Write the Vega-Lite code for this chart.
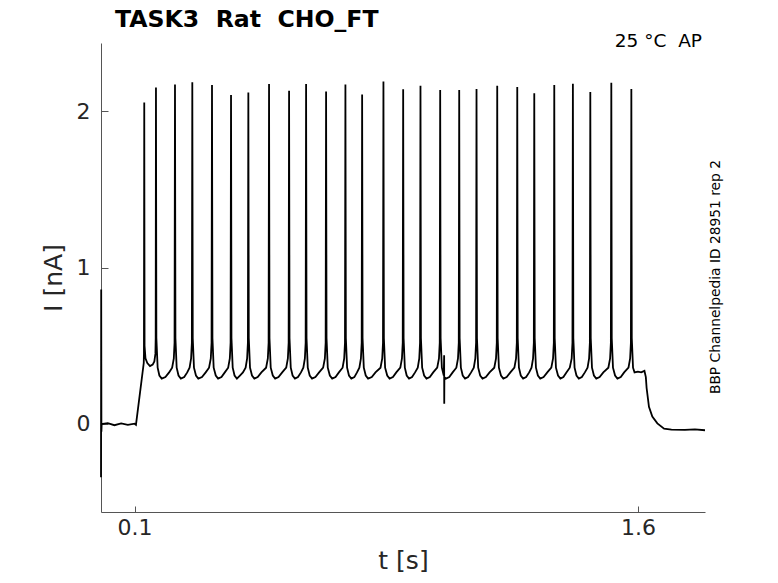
{
  "$schema": "https://vega.github.io/schema/vega-lite/v6.json",
  "autosize": {"type": "none"},
  "padding": {"left": 101, "top": 43, "right": 73, "bottom": 71},
  "width": 604,
  "height": 469,
  "title": {
    "text": "TASK3\u00a0 Rat\u00a0 CHO_FT",
    "anchor": "start",
    "frame": "group",
    "dx": 14,
    "offset": 0,
    "font": "DejaVu Sans",
    "fontSize": 23.6,
    "fontWeight": "bold",
    "color": "black"
  },
  "layer": [
    {
      "data": {
        "values": [
          {"t": 0, "I": -0.34}, {"t": 0.0006, "I": 0.86}, {"t": 0.0012, "I": -0.05}, {"t": 0.002, "I": 0.0},
          {"t": 0.02, "I": 0.005}, {"t": 0.04, "I": -0.008}, {"t": 0.06, "I": 0.004}, {"t": 0.08, "I": -0.006},
          {"t": 0.1, "I": 0.002}, {"t": 0.1042, "I": -0.005}, {"t": 0.1274, "I": 0.39}, {"t": 0.128, "I": 0.45},
          {"t": 0.1289, "I": 2.056}, {"t": 0.1298, "I": 0.5}, {"t": 0.1325, "I": 0.42}, {"t": 0.138, "I": 0.39},
          {"t": 0.146, "I": 0.37}, {"t": 0.154, "I": 0.38}, {"t": 0.159, "I": 0.4}, {"t": 0.1622, "I": 0.45},
          {"t": 0.163, "I": 0.55},
          {"t": 0.1638, "I": 2.152}, {"t": 0.165, "I": 0.55}, {"t": 0.1688, "I": 0.36}, {"t": 0.174, "I": 0.31},
          {"t": 0.181, "I": 0.29}, {"t": 0.192, "I": 0.3}, {"t": 0.203, "I": 0.33}, {"t": 0.212, "I": 0.36},
          {"t": 0.217, "I": 0.42}, {"t": 0.2192, "I": 0.52},
          {"t": 0.2205, "I": 2.171}, {"t": 0.2218, "I": 0.55}, {"t": 0.2255, "I": 0.36}, {"t": 0.231, "I": 0.31},
          {"t": 0.238, "I": 0.29}, {"t": 0.248, "I": 0.3}, {"t": 0.257, "I": 0.33}, {"t": 0.264, "I": 0.36},
          {"t": 0.2685, "I": 0.42}, {"t": 0.2708, "I": 0.52},
          {"t": 0.2721, "I": 2.186}, {"t": 0.2734, "I": 0.55}, {"t": 0.2771, "I": 0.36}, {"t": 0.283, "I": 0.31},
          {"t": 0.29, "I": 0.29}, {"t": 0.301, "I": 0.3}, {"t": 0.312, "I": 0.33}, {"t": 0.322, "I": 0.36},
          {"t": 0.3272, "I": 0.42}, {"t": 0.3295, "I": 0.52},
          {"t": 0.3308, "I": 2.169}, {"t": 0.3321, "I": 0.55}, {"t": 0.3358, "I": 0.36}, {"t": 0.342, "I": 0.31},
          {"t": 0.349, "I": 0.29}, {"t": 0.359, "I": 0.3}, {"t": 0.369, "I": 0.33}, {"t": 0.379, "I": 0.36},
          {"t": 0.3839, "I": 0.42}, {"t": 0.3862, "I": 0.52},
          {"t": 0.3875, "I": 2.105}, {"t": 0.3888, "I": 0.55}, {"t": 0.3925, "I": 0.36}, {"t": 0.398, "I": 0.31},
          {"t": 0.405, "I": 0.29}, {"t": 0.414, "I": 0.31}, {"t": 0.423, "I": 0.33}, {"t": 0.431, "I": 0.36},
          {"t": 0.4355, "I": 0.42}, {"t": 0.4378, "I": 0.52},
          {"t": 0.4391, "I": 2.12}, {"t": 0.4404, "I": 0.55}, {"t": 0.4441, "I": 0.36}, {"t": 0.45, "I": 0.31},
          {"t": 0.457, "I": 0.29}, {"t": 0.467, "I": 0.3}, {"t": 0.478, "I": 0.33}, {"t": 0.492, "I": 0.36},
          {"t": 0.4972, "I": 0.42}, {"t": 0.4995, "I": 0.52},
          {"t": 0.5008, "I": 2.175}, {"t": 0.5021, "I": 0.55}, {"t": 0.5058, "I": 0.36}, {"t": 0.512, "I": 0.31},
          {"t": 0.519, "I": 0.29}, {"t": 0.529, "I": 0.3}, {"t": 0.54, "I": 0.33}, {"t": 0.552, "I": 0.36},
          {"t": 0.5569, "I": 0.42}, {"t": 0.5592, "I": 0.52},
          {"t": 0.5605, "I": 2.131}, {"t": 0.5618, "I": 0.55}, {"t": 0.5655, "I": 0.36}, {"t": 0.571, "I": 0.31},
          {"t": 0.578, "I": 0.29}, {"t": 0.587, "I": 0.3}, {"t": 0.596, "I": 0.33}, {"t": 0.603, "I": 0.36},
          {"t": 0.6076, "I": 0.42}, {"t": 0.6099, "I": 0.52},
          {"t": 0.6112, "I": 2.175}, {"t": 0.6125, "I": 0.55}, {"t": 0.6162, "I": 0.36}, {"t": 0.622, "I": 0.31},
          {"t": 0.629, "I": 0.29}, {"t": 0.639, "I": 0.3}, {"t": 0.65, "I": 0.33}, {"t": 0.662, "I": 0.36},
          {"t": 0.6672, "I": 0.42}, {"t": 0.6695, "I": 0.52},
          {"t": 0.6708, "I": 2.126}, {"t": 0.6721, "I": 0.55}, {"t": 0.6758, "I": 0.36}, {"t": 0.682, "I": 0.31},
          {"t": 0.689, "I": 0.29}, {"t": 0.699, "I": 0.3}, {"t": 0.709, "I": 0.33}, {"t": 0.72, "I": 0.36},
          {"t": 0.7248, "I": 0.42}, {"t": 0.7271, "I": 0.52},
          {"t": 0.7284, "I": 2.171}, {"t": 0.7297, "I": 0.55}, {"t": 0.7334, "I": 0.36}, {"t": 0.739, "I": 0.31},
          {"t": 0.746, "I": 0.29}, {"t": 0.755, "I": 0.3}, {"t": 0.763, "I": 0.33}, {"t": 0.77, "I": 0.36},
          {"t": 0.7746, "I": 0.42}, {"t": 0.7769, "I": 0.52},
          {"t": 0.7782, "I": 2.107}, {"t": 0.7795, "I": 0.55}, {"t": 0.7832, "I": 0.36}, {"t": 0.789, "I": 0.31},
          {"t": 0.796, "I": 0.29}, {"t": 0.807, "I": 0.3}, {"t": 0.818, "I": 0.33}, {"t": 0.833, "I": 0.36},
          {"t": 0.8381, "I": 0.42}, {"t": 0.8404, "I": 0.52},
          {"t": 0.8417, "I": 2.19}, {"t": 0.843, "I": 0.55}, {"t": 0.8467, "I": 0.36}, {"t": 0.853, "I": 0.31},
          {"t": 0.86, "I": 0.29}, {"t": 0.87, "I": 0.3}, {"t": 0.88, "I": 0.33}, {"t": 0.892, "I": 0.36},
          {"t": 0.8969, "I": 0.42}, {"t": 0.8992, "I": 0.52},
          {"t": 0.9005, "I": 2.141}, {"t": 0.9018, "I": 0.55}, {"t": 0.9055, "I": 0.36}, {"t": 0.911, "I": 0.31},
          {"t": 0.918, "I": 0.29}, {"t": 0.927, "I": 0.3}, {"t": 0.936, "I": 0.33}, {"t": 0.944, "I": 0.36},
          {"t": 0.9485, "I": 0.42}, {"t": 0.9508, "I": 0.52},
          {"t": 0.9521, "I": 2.163}, {"t": 0.9534, "I": 0.55}, {"t": 0.9571, "I": 0.36}, {"t": 0.963, "I": 0.31},
          {"t": 0.97, "I": 0.29}, {"t": 0.98, "I": 0.3}, {"t": 0.99, "I": 0.33}, {"t": 1.002, "I": 0.36},
          {"t": 1.0072, "I": 0.42}, {"t": 1.0095, "I": 0.52},
          {"t": 1.0108, "I": 2.137}, {"t": 1.0121, "I": 0.55}, {"t": 1.0158, "I": 0.36}, {"t": 1.0215, "I": 0.31},
          {"t": 1.0226, "I": 0.44}, {"t": 1.0229, "I": 0.13}, {"t": 1.0233, "I": 0.3}, {"t": 1.028, "I": 0.29},
          {"t": 1.038, "I": 0.3}, {"t": 1.048, "I": 0.33}, {"t": 1.059, "I": 0.36},
          {"t": 1.0639, "I": 0.42}, {"t": 1.0662, "I": 0.52},
          {"t": 1.0675, "I": 2.137}, {"t": 1.0688, "I": 0.55}, {"t": 1.0725, "I": 0.36}, {"t": 1.078, "I": 0.31},
          {"t": 1.085, "I": 0.29}, {"t": 1.094, "I": 0.3}, {"t": 1.103, "I": 0.33}, {"t": 1.111, "I": 0.36},
          {"t": 1.1155, "I": 0.42}, {"t": 1.1178, "I": 0.52},
          {"t": 1.1191, "I": 2.143}, {"t": 1.1204, "I": 0.55}, {"t": 1.1241, "I": 0.36}, {"t": 1.13, "I": 0.31},
          {"t": 1.137, "I": 0.29}, {"t": 1.147, "I": 0.3}, {"t": 1.158, "I": 0.33}, {"t": 1.172, "I": 0.36},
          {"t": 1.1772, "I": 0.42}, {"t": 1.1795, "I": 0.52},
          {"t": 1.1808, "I": 2.163}, {"t": 1.1821, "I": 0.55}, {"t": 1.1858, "I": 0.36}, {"t": 1.192, "I": 0.31},
          {"t": 1.199, "I": 0.29}, {"t": 1.209, "I": 0.3}, {"t": 1.22, "I": 0.33}, {"t": 1.232, "I": 0.36},
          {"t": 1.2369, "I": 0.42}, {"t": 1.2392, "I": 0.52},
          {"t": 1.2405, "I": 2.156}, {"t": 1.2418, "I": 0.55}, {"t": 1.2455, "I": 0.36}, {"t": 1.251, "I": 0.31},
          {"t": 1.258, "I": 0.29}, {"t": 1.267, "I": 0.3}, {"t": 1.276, "I": 0.33}, {"t": 1.283, "I": 0.36},
          {"t": 1.2876, "I": 0.42}, {"t": 1.2899, "I": 0.52},
          {"t": 1.2912, "I": 2.116}, {"t": 1.2925, "I": 0.55}, {"t": 1.2962, "I": 0.36}, {"t": 1.302, "I": 0.31},
          {"t": 1.309, "I": 0.29}, {"t": 1.319, "I": 0.3}, {"t": 1.33, "I": 0.33}, {"t": 1.342, "I": 0.36},
          {"t": 1.3472, "I": 0.42}, {"t": 1.3495, "I": 0.52},
          {"t": 1.3508, "I": 2.169}, {"t": 1.3521, "I": 0.55}, {"t": 1.3558, "I": 0.36}, {"t": 1.362, "I": 0.31},
          {"t": 1.369, "I": 0.29}, {"t": 1.378, "I": 0.3}, {"t": 1.387, "I": 0.33}, {"t": 1.397, "I": 0.36},
          {"t": 1.4027, "I": 0.42}, {"t": 1.405, "I": 0.52},
          {"t": 1.4063, "I": 2.177}, {"t": 1.4076, "I": 0.55}, {"t": 1.4113, "I": 0.36}, {"t": 1.417, "I": 0.31},
          {"t": 1.424, "I": 0.29}, {"t": 1.433, "I": 0.3}, {"t": 1.442, "I": 0.33}, {"t": 1.45, "I": 0.36},
          {"t": 1.4546, "I": 0.42}, {"t": 1.4569, "I": 0.52},
          {"t": 1.4582, "I": 2.124}, {"t": 1.4595, "I": 0.55}, {"t": 1.4632, "I": 0.36}, {"t": 1.469, "I": 0.31},
          {"t": 1.476, "I": 0.29}, {"t": 1.486, "I": 0.3}, {"t": 1.497, "I": 0.33}, {"t": 1.512, "I": 0.36},
          {"t": 1.5172, "I": 0.42}, {"t": 1.5195, "I": 0.52},
          {"t": 1.5208, "I": 2.182}, {"t": 1.5221, "I": 0.55}, {"t": 1.5258, "I": 0.36}, {"t": 1.532, "I": 0.31},
          {"t": 1.539, "I": 0.29}, {"t": 1.549, "I": 0.3}, {"t": 1.559, "I": 0.33}, {"t": 1.572, "I": 0.36},
          {"t": 1.5769, "I": 0.42}, {"t": 1.5792, "I": 0.52},
          {"t": 1.5805, "I": 2.143}, {"t": 1.5818, "I": 0.55}, {"t": 1.5855, "I": 0.36}, {"t": 1.59, "I": 0.33},
          {"t": 1.6, "I": 0.335}, {"t": 1.61, "I": 0.33}, {"t": 1.6195, "I": 0.34}, {"t": 1.6237, "I": 0.3},
          {"t": 1.626, "I": 0.23}, {"t": 1.633, "I": 0.11}, {"t": 1.643, "I": 0.047}, {"t": 1.658, "I": 0.004},
          {"t": 1.678, "I": -0.03}, {"t": 1.7, "I": -0.036}, {"t": 1.74, "I": -0.038}, {"t": 1.77, "I": -0.035},
          {"t": 1.8, "I": -0.04}
        ]
      },
      "mark": {"type": "line", "color": "black", "strokeWidth": 1.8},
      "encoding": {
        "x": {
          "field": "t",
          "type": "quantitative",
          "scale": {"domain": [0, 1.8], "nice": false, "zero": false},
          "axis": {"values": [0.1, 1.6], "format": ".1f", "title": "t [s]", "tickSize": -6, "labelPadding": 11, "titlePadding": 10}
        },
        "y": {
          "field": "I",
          "type": "quantitative",
          "scale": {"domain": [-0.563, 2.437], "nice": false, "zero": false},
          "axis": {"values": [0, 1, 2], "format": "d", "title": "I [nA]", "tickSize": -7, "labelPadding": 18, "titlePadding": 10}
        }
      }
    },
    {
      "data": {"values": [{"label": "25 °C\u00a0 AP"}]},
      "mark": {"type": "text", "align": "right", "baseline": "alphabetic", "font": "DejaVu Sans", "fontSize": 18.5, "color": "black", "dx": -3, "dy": 4},
      "encoding": {
        "text": {"field": "label"},
        "x": {"datum": 1.8},
        "y": {"datum": 2.437}
      }
    },
    {
      "data": {"values": [{"label": "BBP Channelpedia ID 28951 rep 2"}]},
      "mark": {"type": "text", "align": "center", "baseline": "middle", "angle": 270, "font": "DejaVu Sans", "fontSize": 13.8, "color": "black", "dy": 11},
      "encoding": {
        "text": {"field": "label"},
        "x": {"datum": 1.8},
        "y": {"datum": 0.94}
      }
    }
  ],
  "config": {
    "view": {"stroke": null},
    "axis": {
      "grid": false,
      "domainColor": "#555555",
      "tickColor": "#555555",
      "labelColor": "#262626",
      "titleColor": "#262626",
      "labelFont": "DejaVu Sans",
      "titleFont": "DejaVu Sans",
      "labelFontSize": 22,
      "titleFontSize": 25,
      "titleFontWeight": "normal"
    }
  }
}
